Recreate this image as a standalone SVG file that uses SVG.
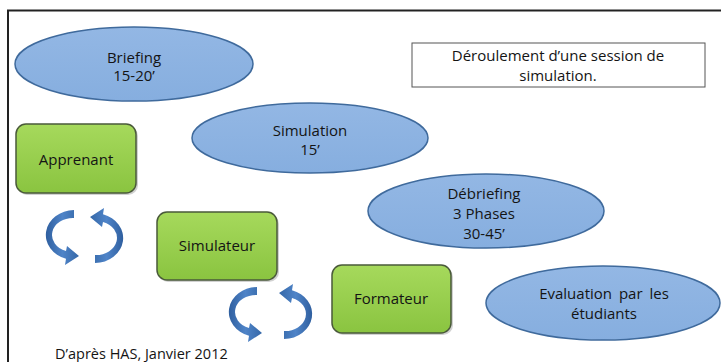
<svg xmlns="http://www.w3.org/2000/svg" width="721" height="362" viewBox="0 0 721 362">
<defs>
<linearGradient id="gGreen" x1="0" y1="0" x2="0" y2="1">
<stop offset="0" stop-color="#a6d95c"/>
<stop offset="1" stop-color="#8ac440"/>
</linearGradient>
<linearGradient id="gBlue" x1="0" y1="0" x2="0" y2="1">
<stop offset="0" stop-color="#93b7e4"/>
<stop offset="1" stop-color="#86aedf"/>
</linearGradient>
<linearGradient id="gArrow" x1="0" y1="0" x2="1" y2="0">
<stop offset="0" stop-color="#2f5f9f"/>
<stop offset="0.5" stop-color="#4f84c8"/>
<stop offset="1" stop-color="#3568a8"/>
</linearGradient>
<path id="arr" d="M 0 -25 A 29 25 0 0 0 -8 23.8 L -9 30 L 5 21 L -7 11 L -8 16 A 21 17 0 0 1 0 -17 Z"/>
</defs>
<style>
.t{font-family:"Open Sans","Liberation Sans",sans-serif;font-size:15px;fill:#141414;text-anchor:middle}
.ell{fill:url(#gBlue);stroke:#3f6a9c;stroke-width:1.5}
.box{fill:url(#gGreen);stroke:#4a5a3a;stroke-width:1.5}
.sh{fill:#9a9a9a;opacity:0.45}
.arrow{fill:url(#gArrow)}
</style>
<rect width="721" height="362" fill="#ffffff"/>
<path d="M 8 362 L 8 10.5 L 721 10.5" fill="none" stroke="#222" stroke-width="2"/>

<g id="briefing">
<ellipse class="ell" cx="134" cy="64" rx="119" ry="37"/>
<text class="t" x="134" y="63">Briefing</text>
<text class="t" x="134" y="81">15-20’</text>
</g>

<g id="titre">
<rect x="412" y="43" width="293" height="44" fill="#fff" stroke="#555" stroke-width="1"/>
<text class="t" x="558" y="61">Déroulement d’une session de</text>
<text class="t" x="558" y="81">simulation.</text>
</g>

<g id="simulation">
<ellipse class="ell" cx="310" cy="138" rx="118" ry="35"/>
<text class="t" x="310" y="136">Simulation</text>
<text class="t" x="310" y="155">15’</text>
</g>

<g id="debriefing">
<ellipse class="ell" cx="486" cy="211" rx="118" ry="37"/>
<text class="t" x="484" y="199">Débriefing</text>
<text class="t" x="484" y="219">3 Phases</text>
<text class="t" x="484" y="239">30-45’</text>
</g>

<g id="evaluation">
<ellipse class="ell" cx="603" cy="303" rx="117" ry="37"/>
<text class="t" x="604" y="299" word-spacing="3">Evaluation par les</text>
<text class="t" x="604" y="319">étudiants</text>
</g>

<g id="apprenant">
<rect class="sh" x="17" y="126" width="121" height="69" rx="10"/>
<rect class="box" x="16" y="124" width="120" height="69" rx="10"/>
<text class="t" x="76" y="165">Apprenant</text>
</g>

<g id="simulateur">
<rect class="sh" x="158" y="214" width="121" height="68" rx="10"/>
<rect class="box" x="157" y="212" width="120" height="68" rx="10"/>
<text class="t" x="217" y="251">Simulateur</text>
</g>

<g id="formateur">
<rect class="sh" x="333" y="267" width="120" height="68" rx="10"/>
<rect class="box" x="332" y="265" width="119" height="68" rx="10"/>
<text class="t" x="391" y="304">Formateur</text>
</g>

<g id="connectors">
<use href="#arr" class="arrow" transform="translate(74,235)"/>
<use href="#arr" class="arrow" transform="translate(95,238) rotate(180)"/>
<use href="#arr" class="arrow" transform="translate(257,312)"/>
<use href="#arr" class="arrow" transform="translate(284,314) rotate(180)"/>
</g>

<text class="t" x="55" y="359" style="text-anchor:start;font-size:14.5px">D’après HAS, Janvier 2012</text>
</svg>
